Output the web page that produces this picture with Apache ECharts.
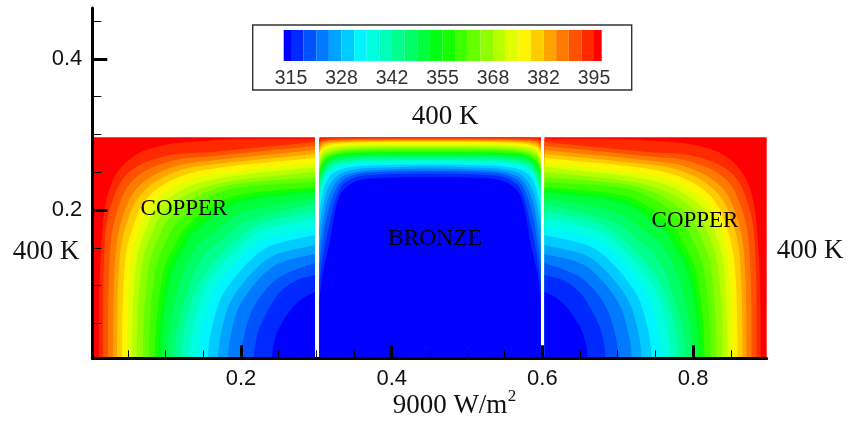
<!DOCTYPE html>
<html>
<head>
<meta charset="utf-8">
<style>html,body{margin:0;padding:0;background:#fff}#c{width:849px;height:422px}</style>
<script src="https://cdn.jsdelivr.net/npm/echarts@6/dist/echarts.min.js"></script>
</head>
<body>
<div id="c"></div>
<script>
// Band colours, coldest to hottest
const bandColors = ['#0000ff','#0029ff','#0052ff','#007aff','#00a3ff','#00ccff','#00f5ff','#00ffe0','#00ffb8','#00ff8f','#00ff66','#00ff3d','#00ff14','#14ff00','#3dff00','#66ff00','#8fff00','#b8ff00','#e0ff00','#fff500','#ffcc00','#ffa300','#ff7a00','#ff5200','#ff2900','#ff0000'];
// Temperature of each contour, hottest first; one row per contour in the arrays below
const contourLevels = [395,391.67,388.33,385,381.67,378.33,375,371.67,368.33,365,361.67,358.33,355,351.67,348.33,345,341.67,338.33,335,331.67,328.33,325,321.67,318.33,315];
// Legend bar edges (K)
const legendEdges = [313.07,315,318.33,321.67,325,328.33,331.67,335,338.33,341.67,345,348.33,351.67,355,358.33,361.67,365,368.33,371.67,375,378.33,381.67,385,388.33,391.67,395,397.03];
const legendTicks = [315,328.33,341.67,355,368.33,381.67,395];
const xMajorTicks = [0.2,0.4,0.6,0.8];
const xMinorTicks = [0.05,0.1,0.15,0.25,0.3,0.35,0.45,0.5,0.55,0.65,0.7,0.75,0.85];
const yMajorTicks = [0.2,0.4];
const yMinorTicks = [0.05,0.1,0.15,0.25,0.3,0.35,0.45];
// Extents of the three blocks: [xMin, xMax, yMin, yMax]
const copperLeftBox = [0.0026,0.2982,0.0036,0.2962];
const bronzeBox = [0.3039,0.5981,0.0036,0.2962];
const copperRightBox = [0.6028,0.8977,0.0036,0.2962];
// Isotherms, bottom edge to inner wall
const copperLeftContours = [
[[.0115,.004],[.0144,.1494],[.0287,.2366],[.0688,.2773],[.1548,.2918],[.2982,.2947]],
[[.0168,.004],[.0186,.1471],[.0269,.2043],[.05,.249],[.1012,.2718],[.1575,.2764],[.2982,.2901]],
[[.0235,.004],[.026,.1444],[.0361,.2006],[.058,.2411],[.1059,.2645],[.1608,.2711],[.2982,.2848]],
[[.0301,.004],[.0333,.1418],[.0448,.1969],[.066,.2331],[.1105,.2574],[.1641,.2659],[.2982,.2795]],
[[.0354,.004],[.0392,.1391],[.0518,.1931],[.0726,.2265],[.1142,.251],[.1668,.2608],[.2982,.2742]],
[[.0421,.004],[.0468,.1365],[.0608,.1894],[.0792,.2199],[.1189,.2442],[.1701,.256],[.2982,.2689]],
[[.0487,.004],[.0538,.1332],[.0682,.1848],[.0859,.2132],[.1235,.2369],[.1734,.249],[.2982,.2623]],
[[.0553,.004],[.061,.1305],[.0762,.1811],[.0925,.2066],[.1282,.2299],[.1767,.243],[.2982,.257]],
[[.062,.004],[.0685,.1272],[.0845,.1765],[.0991,.2],[.1329,.2227],[.1801,.2372],[.2982,.2504]],
[[.0699,.004],[.0772,.1239],[.094,.1718],[.1071,.1921],[.1384,.2163],[.184,.2329],[.2982,.2437]],
[[.0779,.004],[.0865,.1206],[.1047,.1672],[.1151,.1841],[.144,.2087],[.188,.228],[.2982,.2371]],
[[.0859,.004],[.0967,.1173],[.1169,.1626],[.1244,.1748],[.1496,.1975],[.192,.219],[.2982,.2305]],
[[.0898,.004],[.1021,.1157],[.1234,.1603],[.129,.1702],[.1524,.1914],[.194,.2141],[.2982,.2272]],
[[.0938,.004],[.1075,.114],[.1298,.1579],[.1336,.1656],[.1551,.1852],[.196,.2092],[.2982,.2239]],
[[.1018,.004],[.1203,.11],[.1443,.155],[.1607,.1686],[.2,.196],[.2982,.2159]],
[[.1111,.004],[.1333,.106],[.1549,.1444],[.1672,.1544],[.2046,.1838],[.2982,.208]],
[[.1204,.004],[.1352,.0819],[.1533,.1169],[.1951,.1627],[.2271,.1825],[.2982,.1987]],
[[.131,.004],[.1449,.0782],[.1619,.1115],[.2012,.1551],[.2313,.174],[.2982,.1894]],
[[.1429,.004],[.1558,.0734],[.1716,.1046],[.2081,.1454],[.2361,.1631],[.2982,.1775]],
[[.1562,.004],[.168,.0692],[.1825,.0985],[.2158,.1368],[.2414,.1534],[.2982,.1669]],
[[.1695,.004],[.1802,.0639],[.1933,.0908],[.2236,.126],[.2467,.1413],[.2982,.1537]],
[[.1827,.004],[.1923,.0591],[.2041,.0839],[.2312,.1162],[.252,.1303],[.2982,.1417]],
[[.2,.004],[.2053,.0384],[.2159,.0702],[.2345,.0967],[.2557,.1139],[.2982,.1298]],
[[.2172,.004],[.2226,.0384],[.2345,.0649],[.2518,.0914],[.2743,.1073],[.2982,.1139]],
[[.2411,.004],[.2465,.0344],[.2557,.053],[.269,.0715],[.2823,.0834],[.2982,.0914]]
];
const copperRightContours = [
[[.8895,.004],[.8866,.1494],[.8723,.2366],[.8322,.2773],[.7462,.2918],[.6028,.2947]],
[[.8842,.004],[.8824,.1471],[.8741,.2043],[.851,.249],[.7998,.2718],[.7435,.2764],[.6028,.2901]],
[[.8775,.004],[.875,.1444],[.8649,.2006],[.843,.2411],[.7951,.2645],[.7402,.2711],[.6028,.2848]],
[[.8709,.004],[.8677,.1418],[.8562,.1969],[.835,.2331],[.7905,.2574],[.7369,.2659],[.6028,.2795]],
[[.8656,.004],[.8618,.1391],[.8492,.1931],[.8284,.2265],[.7868,.251],[.7342,.2608],[.6028,.2742]],
[[.8589,.004],[.8542,.1365],[.8402,.1894],[.8218,.2199],[.7821,.2442],[.7309,.256],[.6028,.2689]],
[[.8523,.004],[.8472,.1332],[.8328,.1848],[.8151,.2132],[.7775,.2369],[.7276,.249],[.6028,.2623]],
[[.8457,.004],[.84,.1305],[.8248,.1811],[.8085,.2066],[.7728,.2299],[.7243,.243],[.6028,.257]],
[[.839,.004],[.8325,.1272],[.8165,.1765],[.8019,.2],[.7681,.2227],[.7209,.2372],[.6028,.2504]],
[[.8311,.004],[.8238,.1239],[.807,.1718],[.7939,.1921],[.7626,.2163],[.717,.2329],[.6028,.2437]],
[[.8231,.004],[.8145,.1206],[.7963,.1672],[.7859,.1841],[.757,.2087],[.713,.228],[.6028,.2371]],
[[.8151,.004],[.8043,.1173],[.7841,.1626],[.7766,.1748],[.7514,.1975],[.709,.219],[.6028,.2305]],
[[.8112,.004],[.7989,.1157],[.7776,.1603],[.772,.1702],[.7486,.1914],[.707,.2141],[.6028,.2272]],
[[.8072,.004],[.7935,.114],[.7712,.1579],[.7674,.1656],[.7459,.1852],[.705,.2092],[.6028,.2239]],
[[.7992,.004],[.7807,.11],[.7567,.155],[.7403,.1686],[.701,.196],[.6028,.2159]],
[[.7899,.004],[.7677,.106],[.7461,.1444],[.7338,.1544],[.6964,.1838],[.6028,.208]],
[[.7806,.004],[.7658,.0819],[.7477,.1169],[.7059,.1627],[.6739,.1825],[.6028,.1987]],
[[.77,.004],[.7561,.0782],[.7391,.1115],[.6998,.1551],[.6697,.174],[.6028,.1894]],
[[.7581,.004],[.7452,.0734],[.7294,.1046],[.6929,.1454],[.6649,.1631],[.6028,.1775]],
[[.7448,.004],[.733,.0692],[.7185,.0985],[.6852,.1368],[.6596,.1534],[.6028,.1669]],
[[.7315,.004],[.7208,.0639],[.7077,.0908],[.6774,.126],[.6543,.1413],[.6028,.1537]],
[[.7183,.004],[.7087,.0591],[.6969,.0839],[.6698,.1162],[.649,.1303],[.6028,.1417]],
[[.701,.004],[.6957,.0384],[.6851,.0702],[.6665,.0967],[.6453,.1139],[.6028,.1298]],
[[.6838,.004],[.6784,.0384],[.6665,.0649],[.6492,.0914],[.6267,.1073],[.6028,.1139]],
[[.6599,.004],[.6545,.0344],[.6453,.053],[.632,.0715],[.6187,.0834],[.6028,.0914]]
];
// Bronze isotherms: height of each contour at these x positions
const bronzeColumns = [.3039,.3088,.3168,.3301,.3473,.3712,.4508,.5304,.5543,.5716,.5848,.5928,.5981];
const bronzeContours = [
[.294,.2951,.2956,.296,.2962,.2962,.2962,.2962,.2962,.296,.2956,.2951,.294],
[.2914,.2931,.294,.2944,.2947,.2948,.295,.2948,.2947,.2944,.294,.2931,.2914],
[.2874,.2907,.2923,.293,.2934,.2938,.294,.2938,.2934,.293,.2923,.2907,.2874],
[.2834,.2887,.2907,.2914,.2921,.2925,.2927,.2925,.2921,.2914,.2907,.2887,.2834],
[.2795,.2861,.2887,.2901,.2907,.2911,.2914,.2911,.2907,.2901,.2887,.2861,.2795],
[.2755,.2828,.2861,.2881,.289,.2898,.2901,.2898,.289,.2881,.2861,.2828,.2755],
[.2702,.2795,.2834,.2857,.2868,.2872,.2874,.2872,.2868,.2857,.2834,.2795,.2702],
[.2662,.2762,.2808,.2834,.2848,.2852,.2854,.2852,.2848,.2834,.2808,.2762,.2662],
[.2623,.2728,.2775,.2808,.2821,.2832,.2834,.2832,.2821,.2808,.2775,.2728,.2623],
[.2583,.2695,.2748,.2781,.2801,.2811,.2815,.2811,.2801,.2781,.2748,.2695,.2583],
[.2543,.2662,.2722,.2762,.2781,.2791,.2795,.2791,.2781,.2762,.2722,.2662,.2543],
[.2503,.2623,.2695,.2742,.2755,.2764,.2768,.2764,.2755,.2742,.2695,.2623,.2503],
[.2483,.2596,.2682,.2728,.2743,.2751,.2755,.2751,.2743,.2728,.2682,.2596,.2483],
[.2464,.257,.2669,.2715,.2731,.2739,.2742,.2739,.2731,.2715,.2669,.257,.2464],
[.2397,.2517,.2636,.2689,.2702,.2715,.2722,.2715,.2702,.2689,.2636,.2517,.2397],
[.2331,.2477,.2609,.2656,.2682,.2695,.2702,.2695,.2682,.2656,.2609,.2477,.2331],
[.2252,.2437,.257,.2623,.2656,.2668,.2675,.2668,.2656,.2623,.257,.2437,.2252],
[.2172,.2384,.253,.2596,.2629,.2646,.2656,.2646,.2629,.2596,.253,.2384,.2172],
[.2079,.2318,.249,.257,.2603,.262,.2629,.262,.2603,.257,.249,.2318,.2079],
[.1974,.2238,.2437,.253,.257,.2589,.2603,.2589,.257,.253,.2437,.2238,.1974],
[.1748,.2053,.2318,.247,.253,.2556,.2576,.2556,.253,.247,.2318,.2053,.1748],
[.151,.1841,.2185,.2411,.249,.2523,.255,.2523,.249,.2411,.2185,.1841,.151],
[.1272,.1629,.2026,.2344,.2457,.2497,.2517,.2497,.2457,.2344,.2026,.1629,.1272],
[.1033,.1404,.1788,.2265,.2417,.2464,.2483,.2464,.2417,.2265,.1788,.1404,.1033],
[.0808,.1179,.1536,.2172,.2358,.2417,.2437,.2417,.2358,.2172,.1536,.1179,.0808]
];

const SERIF = '"Liberation Serif","Times New Roman",serif';
const SANS = '"Liberation Sans",Arial,sans-serif';

function unit(dx, dy) {
  const l = Math.hypot(dx, dy) || 1;
  return [dx / l, dy / l];
}
// Curve through the read points, with tangents proportional to each segment's length
function smoothPath(pts, startDir) {
  const n = pts.length - 1;
  const tan = pts.map(function (p, i) {
    if (i === 0) return startDir ? unit(startDir[0], startDir[1]) : unit(pts[1][0] - p[0], pts[1][1] - p[1]);
    if (i === n) return unit(p[0] - pts[n - 1][0], p[1] - pts[n - 1][1]);
    return unit(pts[i + 1][0] - pts[i - 1][0], pts[i + 1][1] - pts[i - 1][1]);
  });
  let d = 'M' + pts[0][0] + ' ' + pts[0][1];
  for (let i = 0; i < n; i++) {
    const a = pts[i], b = pts[i + 1];
    const h = Math.hypot(b[0] - a[0], b[1] - a[1]) / 3;
    d += 'C' + (a[0] + tan[i][0] * h) + ' ' + (a[1] + tan[i][1] * h) + ' ' +
         (b[0] - tan[i + 1][0] * h) + ' ' + (b[1] - tan[i + 1][1] * h) + ' ' + b[0] + ' ' + b[1];
  }
  return d;
}
function regionRender(box, contours, closing, startDir) {
  return function (params, api) {
    const i = api.value(0);
    if (i < 0) {
      const a = api.coord([box[0], box[3]]), b = api.coord([box[1], box[2]]);
      return { type: 'rect', shape: { x: a[0], y: a[1], width: b[0] - a[0], height: b[1] - a[1] },
               style: { fill: bandColors[25] } };
    }
    const pts = contours[i].map(function (p) { return api.coord(p); });
    let d = smoothPath(pts, startDir);
    closing.forEach(function (p) { const c = api.coord(p); d += 'L' + c[0] + ' ' + c[1]; });
    d += 'Z';
    return { type: 'path', shape: { pathData: d }, style: { fill: bandColors[24 - i] } };
  };
}
const regionData = [[-1, 400]].concat(contourLevels.map(function (l, i) { return [i, l]; }));
const bronzeLines = bronzeContours.map(function (row) {
  return row.map(function (y, j) { return [bronzeColumns[j], y]; });
});
function region(name, box, contours, closing, startDir) {
  return { type: 'custom', name: name, coordinateSystem: 'cartesian2d', xAxisIndex: 0, yAxisIndex: 0,
           clip: true, silent: true, data: regionData, renderItem: regionRender(box, contours, closing, startDir),
           encode: { x: -1, y: -1 } };
}
function txt(text, x, y, size, font, color) {
  return { type: 'text', x: x, y: y, z: 20, silent: true,
           style: { text: text, fontSize: size, fontFamily: font, fill: color || '#111', align: 'center', verticalAlign: 'middle' } };
}
const lineStyle = { color: '#000', width: 3 };
const chart = echarts.init(document.getElementById('c'), null, { renderer: 'canvas' });
chart.setOption({
  animation: false,
  backgroundColor: '#fff',
  grid: [
    { left: 92.3, right: 82.3, top: 8, bottom: 63.7, containLabel: false },
    { left: 283.7, width: 318, top: 30, height: 31 }
  ],
  xAxis: [
    { type: 'value', gridIndex: 0, min: 0.0026, max: 0.8977, position: 'bottom', z: 10, splitLine: { show: false },
      axisLine: { show: true, onZero: false, lineStyle: lineStyle },
      axisTick: { show: true, inside: true, length: 13, lineStyle: { color: '#000', width: 3 }, customValues: xMajorTicks },
      axisLabel: { show: true, customValues: xMajorTicks, margin: 10, fontSize: 22, fontFamily: SANS, color: '#111', formatter: function (v) { return String(v); } } },
    { type: 'value', gridIndex: 0, min: 0.0026, max: 0.8977, position: 'bottom', z: 10, splitLine: { show: false },
      axisLine: { show: false, onZero: false },
      axisTick: { show: true, inside: true, length: 8, lineStyle: { color: '#000', width: 1 }, customValues: xMinorTicks },
      axisLabel: { show: false } },
    { type: 'value', gridIndex: 1, min: 313.07, max: 397.03, position: 'bottom', splitLine: { show: false },
      axisLine: { show: false, onZero: false }, axisTick: { show: false },
      axisLabel: { show: true, customValues: legendTicks, margin: 8, fontSize: 19.5, fontFamily: SANS, color: '#333', formatter: function (v) { return String(Math.round(v)); } } }
  ],
  yAxis: [
    { type: 'value', gridIndex: 0, min: 0.0036, max: 0.4675, position: 'left', z: 10, splitLine: { show: false },
      axisLine: { show: true, onZero: false, lineStyle: lineStyle },
      axisTick: { show: true, inside: true, length: 15, lineStyle: { color: '#000', width: 3 }, customValues: yMajorTicks },
      axisLabel: { show: true, customValues: yMajorTicks, margin: 10, fontSize: 22, fontFamily: SANS, color: '#111', formatter: function (v) { return String(v); } } },
    { type: 'value', gridIndex: 0, min: 0.0036, max: 0.4675, position: 'left', z: 10, splitLine: { show: false },
      axisLine: { show: false, onZero: false },
      axisTick: { show: true, inside: true, length: 9, lineStyle: { color: '#000', width: 1 }, customValues: yMinorTicks },
      axisLabel: { show: false } },
    { type: 'value', gridIndex: 1, min: 0, max: 1, show: false }
  ],
  series: [
    region('Copper (left)', copperLeftBox, copperLeftContours, [[copperLeftBox[1], copperLeftBox[2]]], [0, -1]),
    region('Bronze', bronzeBox, bronzeLines, [[bronzeBox[1], bronzeBox[2]], [bronzeBox[0], bronzeBox[2]]]),
    region('Copper (right)', copperRightBox, copperRightContours, [[copperRightBox[0], copperRightBox[2]]], [0, -1]),
    { type: 'custom', name: 'Legend', coordinateSystem: 'cartesian2d', xAxisIndex: 2, yAxisIndex: 2, silent: true,
      data: bandColors.map(function (c, i) { return [legendEdges[i], legendEdges[i + 1], i]; }),
      encode: { x: [0, 1] },
      renderItem: function (params, api) {
        const a = api.coord([api.value(0), 1]), b = api.coord([api.value(1), 0]);
        return { type: 'rect', shape: { x: a[0], y: a[1], width: b[0] - a[0], height: b[1] - a[1] },
                 style: { fill: bandColors[api.value(2)] } };
      } }
  ],
  graphic: [
    { type: 'rect', silent: true, z: 20, shape: { x: 252.7, y: 25, width: 379, height: 65 },
      style: { fill: 'none', stroke: '#333', lineWidth: 1.4 } },
    txt('400 K', 445, 116.5, 27, SERIF),
    txt('400 K', 46, 252, 27, SERIF),
    txt('400 K', 810, 251, 27, SERIF),
    txt('COPPER', 184, 209, 23, SERIF, '#000'),
    txt('COPPER', 695, 221, 23, SERIF, '#000'),
    txt('BRONZE', 435, 238.5, 23.5, SERIF, '#000'),
    txt('9000 W/m', 450, 406, 27, SERIF),
    txt('2', 512, 397, 17, SERIF)
  ]
});
</script>
</body>
</html>
